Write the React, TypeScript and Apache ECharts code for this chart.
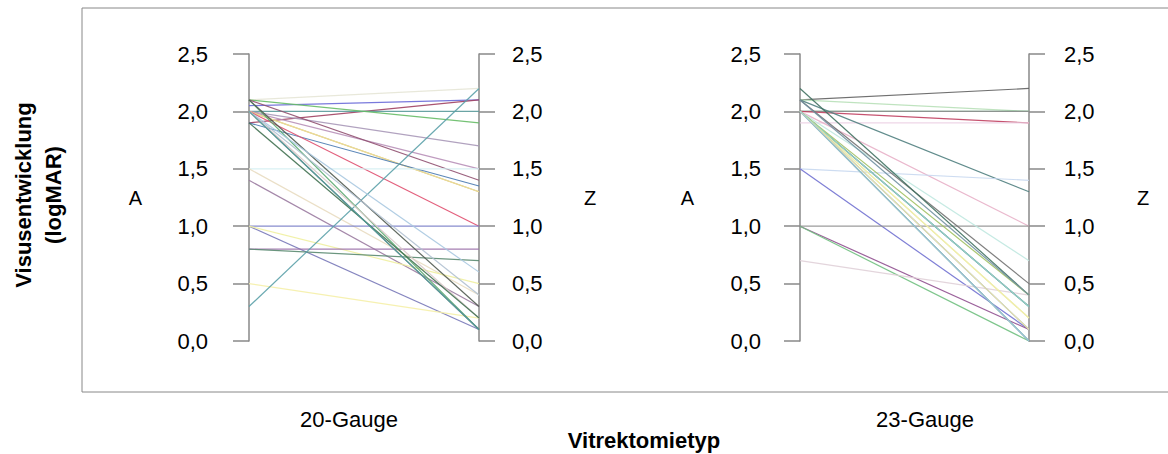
import React, { useEffect, useRef } from "react";
import * as echarts from "echarts";

const groups = ["20-Gauge", "23-Gauge"];
const endpoints = ["A", "Z"];
const yTicks = [0, 0.5, 1.0, 1.5, 2.0, 2.5];
const xTitle = "Vitrektomietyp";
const yTitle = "Visusentwicklung\n(logMAR)";

// 20-Gauge: A value, Z value, colour
const g20A = [2.1, 2.05, 1.9, 2.0, 2.1, 2.0, 2.0, 2.1, 2.0, 2.0, 1.9, 2.0, 1.5, 1.5, 1.4, 1.0, 1.0, 1.0, 0.8, 0.8, 0.5, 0.3, 2.1, 2.0, 2.1, 2.0, 2.0, 2.0, 1.9, 2.0];
const g20Z = [2.2, 2.1, 2.1, 2.0, 1.9, 1.7, 1.5, 1.4, 1.3, 1.3, 1.35, 1.0, 1.5, 0.4, 0.3, 1.0, 0.1, 0.5, 0.8, 0.7, 0.2, 2.2, 0.1, 0.1, 0.3, 0.6, 0.4, 0.2, 0.2, 0.1];
const g20Colors = ["#e6e6d6", "#6a6ad8", "#a04060", "#5a9a9a", "#66bb66", "#a898b8", "#b890b8", "#905070", "#e0b050", "#e8e0a0", "#4a7ab0", "#e05070", "#d4eef2", "#e8dcc0", "#9a7aa0", "#7a80c8", "#7878b8", "#f0f0a0", "#9a70a8", "#5a8a70", "#f5f0a8", "#5aa0a8", "#5aaa70", "#606060", "#505a50", "#a8c8e0", "#b0c0d0", "#d8c8c8", "#407050", "#50a0a0"];

// 23-Gauge
const g23A = [2.1, 2.1, 2.0, 2.0, 2.0, 1.9, 2.1, 2.0, 1.5, 1.5, 1.0, 1.0, 1.0, 0.7, 2.0, 2.1, 2.2, 2.0, 2.0, 2.0, 2.0, 2.0, 2.0, 2.0, 2.0, 2.0, 2.1, 2.0, 2.0];
const g23Z = [2.2, 2.0, 2.0, 2.0, 1.9, 1.9, 1.3, 1.0, 1.4, 0.1, 1.0, 0.1, 0.0, 0.4, 0.7, 0.5, 0.4, 0.3, 0.3, 0.2, 0.2, 0.1, 0.0, 0.0, 0.4, 0.3, 0.4, 0.1, 0.0];
const g23Colors = ["#606060", "#b8e0b8", "#60b080", "#909090", "#c04060", "#ecd0e4", "#508080", "#e8b0c8", "#c8d8f0", "#7070d0", "#909090", "#905090", "#70c080", "#e0d0d8", "#c0e8e0", "#707070", "#407060", "#4a90a0", "#5070b0", "#e8e080", "#f0f0b0", "#6080d0", "#60a0a0", "#80c090", "#a0c060", "#a0e0c0", "#7090a0", "#f8f0a0", "#a0c0e0"];

const FONT = "Liberation Sans, Arial, sans-serif";

function fmt(v: number) {
  return v.toFixed(1).replace(".", ",");
}

function valueAxis(gridIndex: number, position: string, margin: number, name: string, nameGap: number) {
  return {
    type: "value",
    gridIndex,
    position,
    min: yTicks[0],
    max: yTicks[yTicks.length - 1],
    interval: yTicks[1] - yTicks[0],
    name,
    nameLocation: "middle",
    nameRotate: 0,
    nameGap,
    nameTextStyle: { fontSize: 20, color: "#000", fontFamily: FONT },
    axisLine: { show: true, lineStyle: { color: "#888", width: 1.5 } },
    axisTick: { show: true, inside: false, length: 16, lineStyle: { color: "#888", width: 1.5 } },
    splitLine: { show: false },
    axisLabel: {
      show: true,
      margin,
      fontSize: 22,
      color: "#000",
      fontFamily: FONT,
      formatter: (v: number) => fmt(v),
    },
  };
}

function makeSeries(a: number[], z: number[], colors: string[], idx: number) {
  return a.map((av, i) => ({
    type: "line",
    xAxisIndex: idx,
    yAxisIndex: idx * 2,
    data: [av, z[i]],
    symbol: "none",
    silent: true,
    lineStyle: { color: colors[i], width: 1.2, opacity: 0.9 },
  }));
}

export default function App() {
  const ref = useRef<HTMLDivElement>(null);
  useEffect(() => {
    if (!ref.current) return;
    const chart = echarts.init(ref.current, undefined, { renderer: "svg" });
    const hiddenCat = (gridIndex: number) => ({
      type: "category",
      gridIndex,
      data: endpoints,
      boundaryGap: false,
      show: false,
    });
    chart.setOption({
      animation: false,
      backgroundColor: "#fff",
      grid: [
        { left: 249, top: 54, width: 230, height: 287, outerBoundsMode: "none", containLabel: false },
        { left: 800, top: 54, width: 229, height: 287, outerBoundsMode: "none", containLabel: false },
        { left: 61, top: 8, width: 1152, height: 384, outerBoundsMode: "none", containLabel: false },
      ],
      xAxis: [
        hiddenCat(0),
        hiddenCat(1),
        {
          type: "category",
          gridIndex: 2,
          data: groups,
          position: "bottom",
          axisLine: { show: false, onZero: false },
          axisTick: { show: false },
          axisLabel: { fontSize: 22, color: "#000", margin: 16, fontFamily: FONT },
        },
      ],
      yAxis: [
        valueAxis(0, "left", 41, "A", 107),
        valueAxis(0, "right", 33, "Z", 105),
        valueAxis(1, "left", 39, "A", 106),
        valueAxis(1, "right", 35, "Z", 108),
        { type: "value", gridIndex: 2, show: false, min: 0, max: 1 },
      ],
      graphic: [
        {
          type: "rect",
          shape: { x: 82, y: 8, width: 1100, height: 384 },
          style: { fill: "none", stroke: "#888", lineWidth: 1 },
          silent: true,
          z: -1,
        },
        {
          type: "text",
          x: 38,
          y: 195,
          rotation: Math.PI / 2,
          style: {
            text: yTitle,
            fontSize: 22,
            fontWeight: "bold",
            fontFamily: FONT,
            fill: "#000",
            align: "center",
            verticalAlign: "middle",
            lineHeight: 30,
          },
        },
        {
          type: "text",
          x: 644,
          y: 440,
          style: {
            text: xTitle,
            fontSize: 22,
            fontWeight: "bold",
            fontFamily: FONT,
            fill: "#000",
            align: "center",
            verticalAlign: "middle",
          },
        },
      ],
      series: [
        ...makeSeries(g20A, g20Z, g20Colors, 0),
        ...makeSeries(g23A, g23Z, g23Colors, 1),
      ],
    });
    return () => chart.dispose();
  }, []);
  return <div ref={ref} style={{ width: 1168, height: 454, position: "absolute", left: 0, top: 0 }} />;
}
